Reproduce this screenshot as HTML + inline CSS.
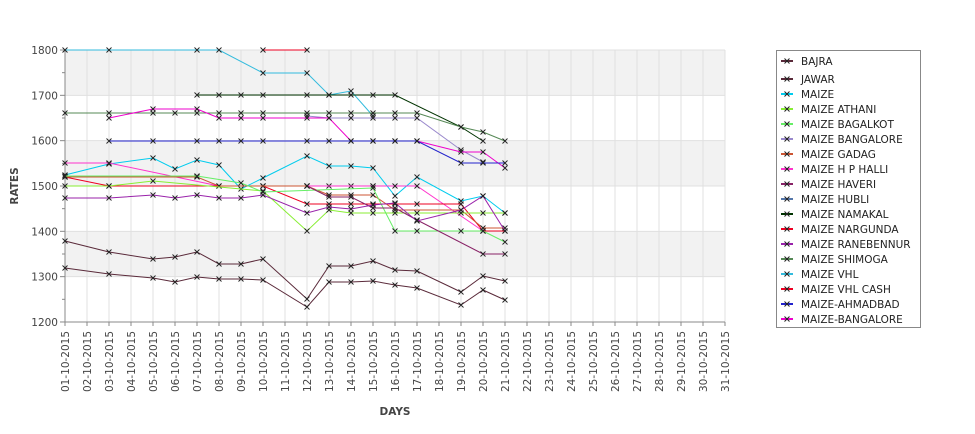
<!DOCTYPE html>
<html><head><meta charset="utf-8"><style>
body{margin:0;background:#fff;}
svg{font-family:"DejaVu Sans","Liberation Sans",sans-serif;}
</style></head><body>
<svg id="c" width="975" height="429" xmlns="http://www.w3.org/2000/svg"></svg>
<script>
const s=document.getElementById('c');let h='';
const X=d=>65+22*(d-1);
h+='<rect x="65" y="50" width="660" height="45.3" fill="#f2f2f2"/>';
h+='<rect x="65" y="140.7" width="660" height="45.3" fill="#f2f2f2"/>';
h+='<rect x="65" y="231.3" width="660" height="45.3" fill="#f2f2f2"/>';
for(let d=1;d<=31;d++){h+=`<line x1="${X(d)}" y1="50" x2="${X(d)}" y2="322" stroke="#e0e0e0"/>`;}
for(let i=0;i<=6;i++){const y=50+i*45.33;h+=`<line x1="65" y1="${y}" x2="725" y2="${y}" stroke="#e0e0e0"/>`;
h+=`<text x="58" y="${y+4}" font-size="10.5" fill="#444" text-anchor="end">${1800-100*i}</text><line x1="60" y1="${y}" x2="65" y2="${y}" stroke="#888"/>`;
if(i<6)h+=`<line x1="62" y1="${y+22.67}" x2="65" y2="${y+22.67}" stroke="#888"/>`;}
h+='<line x1="65" y1="50" x2="65" y2="322" stroke="#888"/><line x1="65" y1="322" x2="725" y2="322" stroke="#888"/>';
for(let d=1;d<=31;d++){const x=X(d);h+=`<line x1="${x}" y1="322" x2="${x}" y2="326" stroke="#888"/>`;
h+=`<text transform="translate(${x+4},392) rotate(-90)" font-size="10.5" fill="#444">${String(d).padStart(2,'0')}-10-2015</text>`;}
h+='<text x="395" y="415" font-size="10.5" font-weight="bold" fill="#444" text-anchor="middle">DAYS</text>';
h+='<text transform="translate(18,186) rotate(-90)" font-size="10.5" font-weight="bold" fill="#444" text-anchor="middle">RATES</text>';
const S=[
['#5a2a3a',[[1,241],[3,252],[5,259],[6,257],[7,252],[8,264],[9,264],[10,259],[12,299],[13,266],[14,266],[15,261],[16,270],[17,271],[19,292],[20,276],[21,281]]],
['#5a2a3a',[[1,268],[3,274],[5,278],[6,282],[7,277],[8,279],[9,279],[10,280],[12,307],[13,282],[14,282],[15,281],[16,285],[17,288],[19,305],[20,290],[21,300]]],
['#00ccee',[[1,175],[3,164],[5,158],[6,169],[7,160],[8,165],[9,189],[10,178],[12,156],[13,166],[14,166],[15,168],[16,196],[17,177],[19,201],[20,196],[21,213]]],
['#33bbdd',[[1,50],[3,50],[7,50],[8,50],[10,73],[12,73],[13,95],[14,91],[15,116]]],
['#003300',[[7,95],[8,95],[9,95],[10,95],[12,95],[13,95],[14,95],[15,95],[16,95],[19,127],[20,141]]],
['#558855',[[1,113],[3,113],[5,113],[6,113],[7,113],[8,113],[9,113],[10,113],[12,113],[13,113],[14,113],[15,113],[16,113],[17,113],[19,127],[20,132],[21,141]]],
['#9988cc',[[12,116],[13,118],[14,118],[15,118],[16,118],[17,118],[19,150],[20,162]]],
['#ee00cc',[[3,118],[5,109],[7,109],[8,118],[9,118],[10,118],[12,118],[13,118],[14,141],[15,141],[16,141],[17,141],[19,152],[20,152],[21,168]]],
['#2222cc',[[3,141],[5,141],[7,141],[8,141],[9,141],[10,141],[12,141],[13,141],[14,141],[15,141],[16,141],[17,141],[19,163],[20,163],[21,163]]],
['#5577aa',[[10,186],[12,186],[13,186],[14,186],[15,186]]],
['#ff33cc',[[1,163],[3,163],[8,186],[10,186],[12,186],[15,186],[16,186],[17,186],[20,231]]],
['#ee0022',[[1,177],[3,186],[10,186],[12,204],[13,204],[14,204],[15,204],[16,204],[17,204],[19,204],[20,231],[21,231]]],
['#ee0022',[[10,50],[12,50]]],
['#cc5533',[[1,177],[7,177],[8,186],[12,186],[13,195],[14,195],[15,195],[16,210],[19,210],[20,228],[21,228]]],
['#88ee33',[[1,186],[3,186],[5,181],[10,191],[12,231],[13,210],[14,213],[15,213],[16,213],[17,213],[19,213],[20,213],[21,213]]],
['#66ee66',[[1,176],[7,176],[9,183],[10,192],[15,188],[16,231],[17,231],[19,231],[20,231],[21,242]]],
['#882266',[[12,186],[13,197],[14,197],[15,208],[16,208],[17,220],[20,254],[21,254]]],
['#9922aa',[[1,198],[3,198],[5,195],[6,198],[7,195],[8,198],[9,198],[10,195],[12,213],[13,207],[14,209],[15,205],[16,203],[17,221],[19,210],[20,196],[21,231]]]
];
for(const[c,p]of S){h+=`<polyline fill="none" stroke="${c}" stroke-width="1" points="${p.map(q=>X(q[0])+','+q[1]).join(' ')}"/>`;
for(const q of p){const x=X(q[0]),y=q[1];h+=`<path d="M${x-2.5},${y-2.5}L${x+2.5},${y+2.5}M${x-2.5},${y+2.5}L${x+2.5},${y-2.5}" stroke="#222" stroke-width="0.9"/>`;}}
h+='<rect x="776.5" y="50.5" width="144" height="277" fill="#fff" stroke="#888"/>';
const L=[['BAJRA','#5a2a3a'],['JAWAR','#5a2a3a'],['MAIZE','#00ccee'],['MAIZE ATHANI','#88ee33'],['MAIZE BAGALKOT','#66ee66'],['MAIZE BANGALORE','#9988cc'],['MAIZE GADAG','#cc5533'],['MAIZE H P HALLI','#ff33cc'],['MAIZE HAVERI','#882266'],['MAIZE HUBLI','#5577aa'],['MAIZE NAMAKAL','#003300'],['MAIZE NARGUNDA','#ee0022'],['MAIZE RANEBENNUR','#9922aa'],['MAIZE SHIMOGA','#558855'],['MAIZE VHL','#33bbdd'],['MAIZE VHL CASH','#ee0022'],['MAIZE-AHMADBAD','#2222cc'],['MAIZE-BANGALORE','#ee00cc']];
const ly=[61,79,94,109,124,139,154,169,184,199,214,229,244,259,274,289,304,319];
L.forEach((l,i)=>{const y=ly[i];h+=`<line x1="781" y1="${y}" x2="793" y2="${y}" stroke="${l[1]}" stroke-width="2"/><path d="M784.5,${y-2.5}L789.5,${y+2.5}M784.5,${y+2.5}L789.5,${y-2.5}" stroke="#222"/><text x="801" y="${y+4}" font-size="10.5" fill="#222">${l[0]}</text>`;});
s.innerHTML=h;
</script>
</body></html>
